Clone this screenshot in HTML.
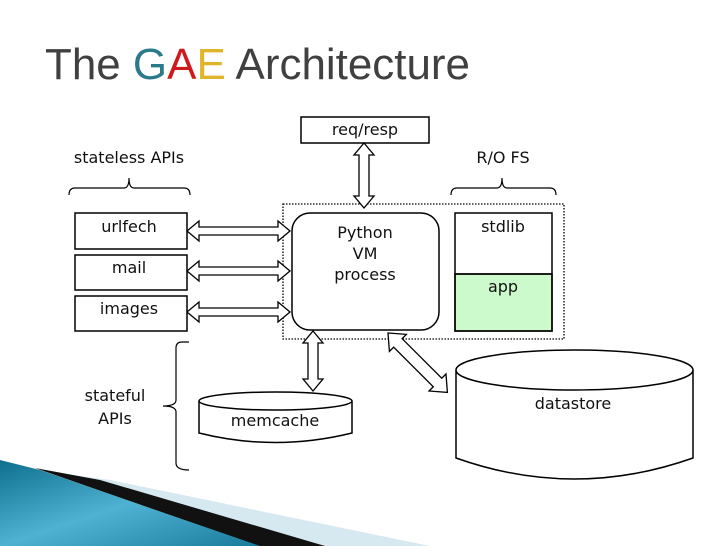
<!DOCTYPE html>
<html><head><meta charset="utf-8"><style>
html,body{margin:0;padding:0;background:#fff;width:728px;height:546px;overflow:hidden}
svg{display:block}
text{font-family:"DejaVu Sans","Liberation Sans",sans-serif;fill:#111}
</style></head><body>
<svg width="728" height="546" viewBox="0 0 728 546" xmlns="http://www.w3.org/2000/svg">
<defs>
<linearGradient id="bl" x1="0" y1="0" x2="1" y2="1">
<stop offset="0" stop-color="#0e6f8e"/><stop offset="0.5" stop-color="#4fb2d2"/><stop offset="1" stop-color="#1a7c9c"/>
</linearGradient>
</defs>
<text x="45" y="79" font-size="44" textLength="425" lengthAdjust="spacingAndGlyphs" style="font-family:'Liberation Sans',sans-serif" fill="#404040"><tspan fill="#404040">The </tspan><tspan fill="#2b7a8c">G</tspan><tspan fill="#d0191c">A</tspan><tspan fill="#e0b52a">E</tspan><tspan fill="#404040"> Architecture</tspan></text>

<!-- swoosh -->
<polygon points="50,472 110,480 430,546 320,546" fill="#d6e8f0"/>
<polygon points="35,468 100,480 325,546 258,546" fill="#111"/>
<polygon points="0,460 40,470 260,546 0,546" fill="url(#bl)"/>

<g fill="none" stroke="#000" stroke-width="1.5">
<rect x="301" y="117" width="128" height="26" fill="#fff"/>
<rect x="283" y="204" width="281" height="135" stroke-dasharray="1.5 1.5" stroke-width="1.3"/>
<rect x="292" y="213" width="147" height="117" rx="18" fill="#fff"/>
<rect x="455" y="274" width="97" height="57" fill="#ccfacc"/>
<rect x="455" y="213" width="97" height="118"/>
<line x1="455" y1="274" x2="552" y2="274"/>
<rect x="75" y="213" width="112" height="36"/>
<rect x="75" y="255" width="112" height="35"/>
<rect x="75" y="296" width="112" height="35"/>
<path d="M69,195 Q69,188 75,188 L124,188 Q129,188 129,178 Q129,188 134,188 L184,188 Q190,188 190,195" stroke-width="1.2"/>
<path d="M451,195 Q451,188 457,188 L497,188 Q502,188 502,178 Q502,188 507,188 L550,188 Q556,188 556,195" stroke-width="1.2"/>
<path d="M189,342 L182,342 Q176,342 176,348 L176,400 Q176,406 163,406 Q176,406 176,412 L176,463 Q176,470 189,470" stroke-width="1.2"/>
<path d="M199,401 L199,433 Q275,452 352,433 L352,401" fill="#fff"/>
<ellipse cx="275.5" cy="401" rx="76.5" ry="9" fill="#fff"/>
<path d="M456,370 L456,458 Q574,500 693,458 L693,370" fill="#fff"/>
<ellipse cx="574.5" cy="370" rx="118.5" ry="20" fill="#fff"/>
</g>
<g fill="#fff" stroke="#000" stroke-width="1.3" stroke-linejoin="miter">
<polygon transform="translate(187,231)" points="0,0 12,-10 12,-4 91,-4 91,-10 103,0 91,10 91,4 12,4 12,10"/>
<polygon transform="translate(187,271)" points="0,0 12,-10 12,-4 91,-4 91,-10 103,0 91,10 91,4 12,4 12,10"/>
<polygon transform="translate(187,312)" points="0,0 12,-10 12,-4 91,-4 91,-10 103,0 91,10 91,4 12,4 12,10"/>
<polygon transform="translate(364,143) rotate(90)" points="0,0 12,-10 12,-5 53,-5 53,-10 65,0 53,10 53,5 12,5 12,10"/>
<polygon transform="translate(313,331) rotate(90)" points="0,0 12,-10 12,-5 48,-5 48,-10 60,0 48,10 48,5 12,5 12,10"/>
<polygon transform="translate(388,333) rotate(45)" points="0,0 14,-12 14,-6 70,-6 70,-12 84,0 70,12 70,6 14,6 14,12"/>
</g>
<g font-size="16" text-anchor="middle">
<text x="365" y="135">req/resp</text>
<text x="129" y="163">stateless APIs</text>
<text x="503" y="163">R/O FS</text>
<text x="129" y="232">urlfech</text>
<text x="129" y="273">mail</text>
<text x="129" y="314">images</text>
<text x="365" y="238">Python</text>
<text x="365" y="259">VM</text>
<text x="365" y="280">process</text>
<text x="503" y="232">stdlib</text>
<text x="503" y="292">app</text>
<text x="115" y="401">stateful</text>
<text x="115" y="424">APIs</text>
<text x="275" y="426">memcache</text>
<text x="573" y="409">datastore</text>
</g>
</svg>
</body></html>
